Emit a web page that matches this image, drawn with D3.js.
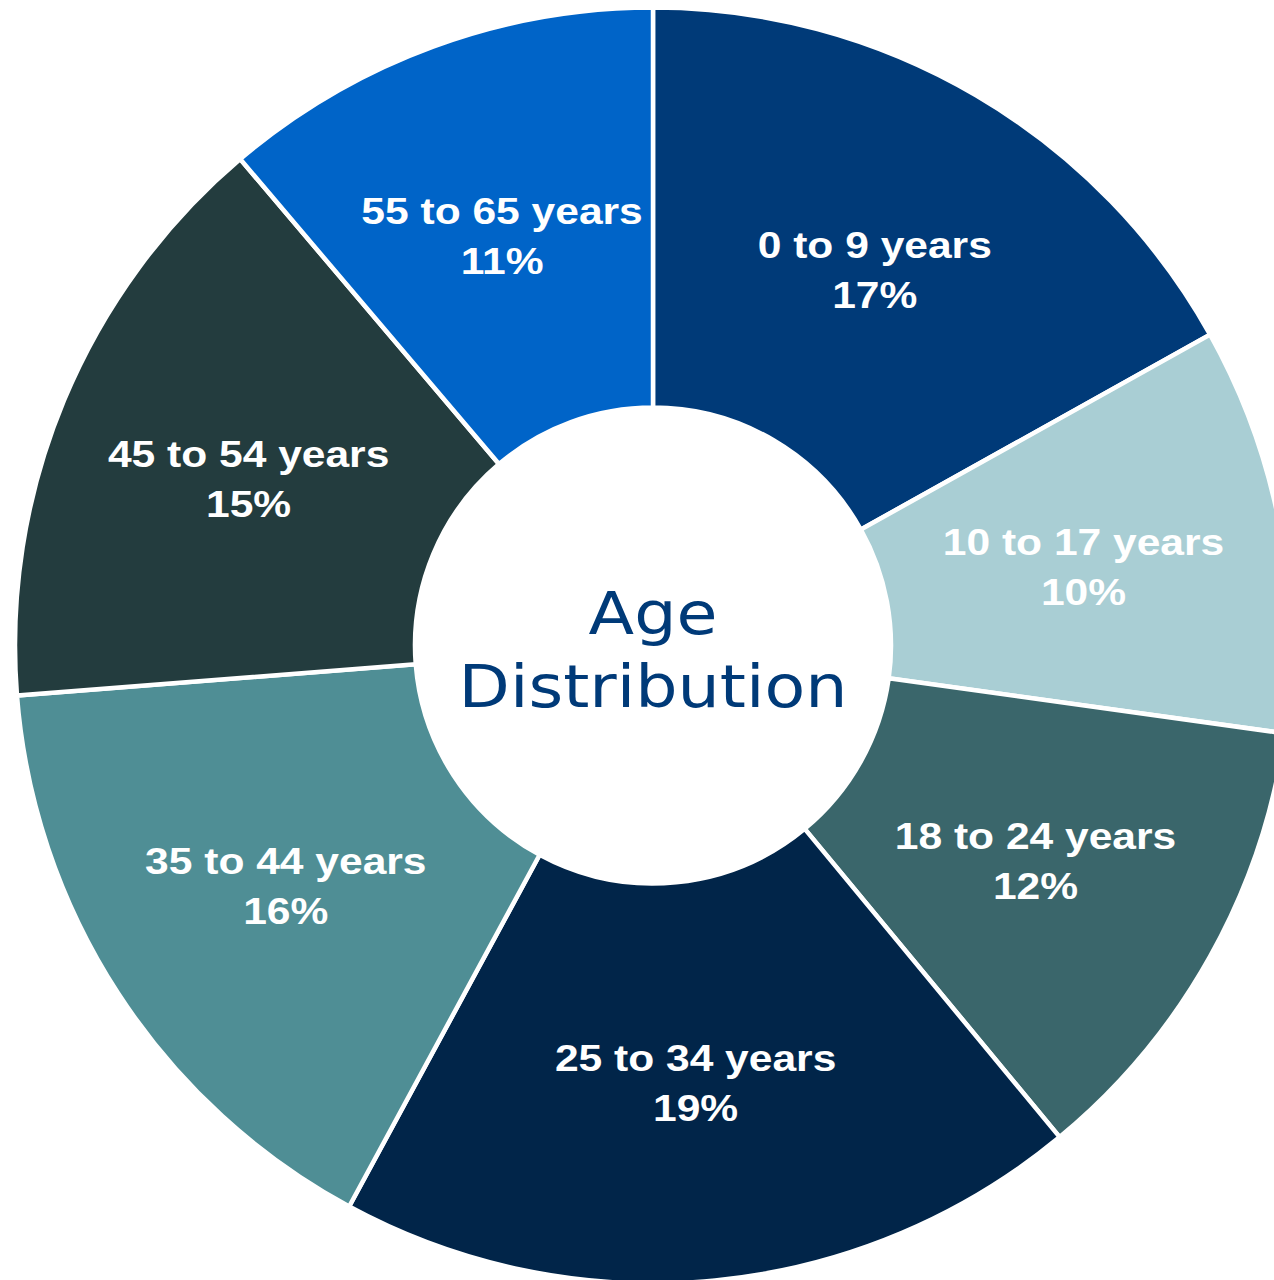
<!DOCTYPE html>
<html>
<head>
<meta charset="utf-8">
<script src="https://cdn.jsdelivr.net/npm/d3@7"></script>
<style>
html,body{margin:0;padding:0;background:#fff;}
svg{display:block;}
</style>
</head>
<body>
<script>
const categories = ["0 to 9 years","10 to 17 years","18 to 24 years","25 to 34 years","35 to 44 years","45 to 54 years","55 to 65 years"];
// slice shares (labels show rounded percentages)
const values = [16.9,10.3,11.8,18.9,15.85,15.05,11.2];
const colors = ["#003a78","#a9ced4","#3a666b","#012549","#4f8e95","#233c3e","#0064c8"];
const centerTitle = ["Age","Distribution"];

const W = 1274, H = 1280;
const cx = 653, cy = 645.5;
const rOuter = 638, rInner = 238;

const svg = d3.select("body").append("svg").attr("width", W).attr("height", H);
const g = svg.append("g").attr("transform", `translate(${cx},${cy})`);

const data = categories.map((c,i)=>({cat:c, val:values[i], color:colors[i]}));
const pie = d3.pie().value(d=>d.val).sort(null);
const arc = d3.arc().innerRadius(rInner).outerRadius(rOuter);
const arcs = pie(data);

g.selectAll("path").data(arcs).join("path")
  .attr("d", arc)
  .attr("fill", d=>d.data.color)
  .attr("stroke", "#fff")
  .attr("stroke-width", 4.5)
  .attr("stroke-linejoin", "miter");

const labels = g.selectAll("g.lbl").data(arcs).join("g")
  .attr("class","lbl")
  .attr("transform", d=>{ const [x,y] = arc.centroid(d); return `translate(${x},${y}) scale(1.15,1)`; });
labels.append("text")
  .attr("text-anchor","middle")
  .attr("y", -10)
  .attr("fill","#fff")
  .attr("font-family","'Liberation Sans', Arial, sans-serif")
  .attr("font-weight","bold")
  .attr("font-size", 37)
  .text(d=>d.data.cat);
labels.append("text")
  .attr("text-anchor","middle")
  .attr("y", 40)
  .attr("fill","#fff")
  .attr("font-family","'Liberation Sans', Arial, sans-serif")
  .attr("font-weight","bold")
  .attr("font-size", 37)
  .text(d=>Math.round(d.data.val)+"%");

const ct = g.append("text")
  .attr("text-anchor","middle")
  .attr("transform","scale(1.13,1)")
  .attr("fill","#003a78")
  .attr("font-family","'DejaVu Sans', Verdana, sans-serif")
  .attr("font-size", 59);
ct.append("tspan").attr("x",0).attr("y",-12).text(centerTitle[0]);
ct.append("tspan").attr("x",0).attr("y",62).text(centerTitle[1]);
</script>
</body>
</html>
